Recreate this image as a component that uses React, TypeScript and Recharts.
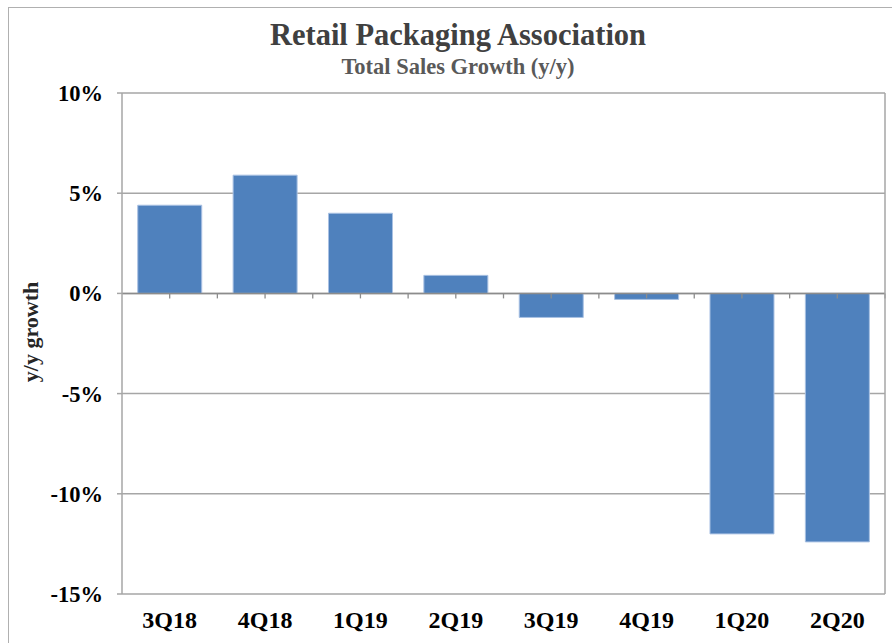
import { BarChart, Bar, XAxis, YAxis, CartesianGrid, ReferenceLine } from "recharts";

const quarters = ["3Q18", "4Q18", "1Q19", "2Q19", "3Q19", "4Q19", "1Q20", "2Q20"];
const salesGrowth = [4.4, 5.9, 4.0, 0.9, -1.2, -0.3, -12.0, -12.4];
const yTicks = [-15, -10, -5, 0, 5, 10];

const data = quarters.map((q, i) => ({ quarter: q, growth: salesGrowth[i] }));

const font = '"Liberation Serif", "Times New Roman", serif';
const gridColor = "#a6a6a6";

// zero line with small tick marks every half category, like the excel category axis
function ZeroAxis(props: any) {
  const { x1, x2, y1 } = props;
  const steps = quarters.length * 2;
  const step = (x2 - x1) / steps;
  const ticks = [];
  for (let i = 1; i <= steps; i++) {
    const x = x1 + step * i;
    ticks.push(<line key={i} x1={x} x2={x} y1={y1} y2={y1 + 5} stroke="#8c8c8c" strokeWidth={1.3} />);
  }
  return (
    <g>
      <line x1={x1} x2={x2} y1={y1} y2={y1} stroke="#8c8c8c" strokeWidth={1.5} />
      {ticks}
    </g>
  );
}

export default function App() {
  return (
    <div style={{ position: "relative", width: 892, height: 643, overflow: "hidden", background: "#fff" }}>
      <style>{"body{margin:0}"}</style>
      <div
        style={{
          position: "absolute",
          left: 8,
          top: 7,
          width: 1000,
          height: 1000,
          borderLeft: "1.5px solid #b0b0b0",
          borderTop: "1.5px solid #b0b0b0",
        }}
      />
      <div
        style={{
          position: "absolute",
          left: 258,
          width: 400,
          top: 17,
          textAlign: "center",
          fontFamily: font,
          fontWeight: "bold",
          color: "#404040",
        }}
      >
        <div style={{ fontSize: 30.5, lineHeight: "37px" }}>Retail Packaging Association</div>
        <div style={{ fontSize: 22.5, lineHeight: "26px", color: "#595959" }}>Total Sales Growth (y/y)</div>
      </div>
      <div
        style={{
          position: "absolute",
          left: 31,
          top: 332,
          transform: "translate(-50%, -50%) rotate(-90deg)",
          whiteSpace: "nowrap",
          fontFamily: font,
          fontWeight: "bold",
          fontSize: 22,
          color: "#262626",
        }}
      >
        y/y growth
      </div>
      <div style={{ position: "absolute", left: 0, top: 0 }}>
        <BarChart
          width={892}
          height={643}
          data={data}
          margin={{ top: 93, right: 0, bottom: 0, left: 8 }}
          barCategoryGap="16.5%"
        >
          <CartesianGrid vertical={false} stroke={gridColor} strokeWidth={1.5} />
          <XAxis
            dataKey="quarter"
            height={49}
            axisLine={false}
            tickLine={false}
            tickMargin={11}
            interval={0}
            tick={{ fill: "#000", fontFamily: font, fontWeight: "bold", fontSize: 24 }}
          />
          <YAxis
            width={114}
            domain={[-15, 10]}
            ticks={yTicks}
            allowDataOverflow
            tickFormatter={(v: number) => `${v}%`}
            tickSize={5}
            tickMargin={14}
            axisLine={{ stroke: gridColor, strokeWidth: 1.5 }}
            tickLine={{ stroke: gridColor, strokeWidth: 1.5 }}
            tick={{ fill: "#000", fontFamily: font, fontWeight: "bold", fontSize: 22.5 }}
          />
          <YAxis
            yAxisId="frame"
            orientation="right"
            width={7}
            domain={[-15, 10]}
            tick={false}
            tickLine={false}
            axisLine={{ stroke: gridColor, strokeWidth: 1.5 }}
          />
          <Bar dataKey="growth" fill="#4f81bd" stroke="#a9c1e3" strokeWidth={1} isAnimationActive={false} />
          <ReferenceLine y={0} shape={ZeroAxis} />
        </BarChart>
      </div>
    </div>
  );
}
